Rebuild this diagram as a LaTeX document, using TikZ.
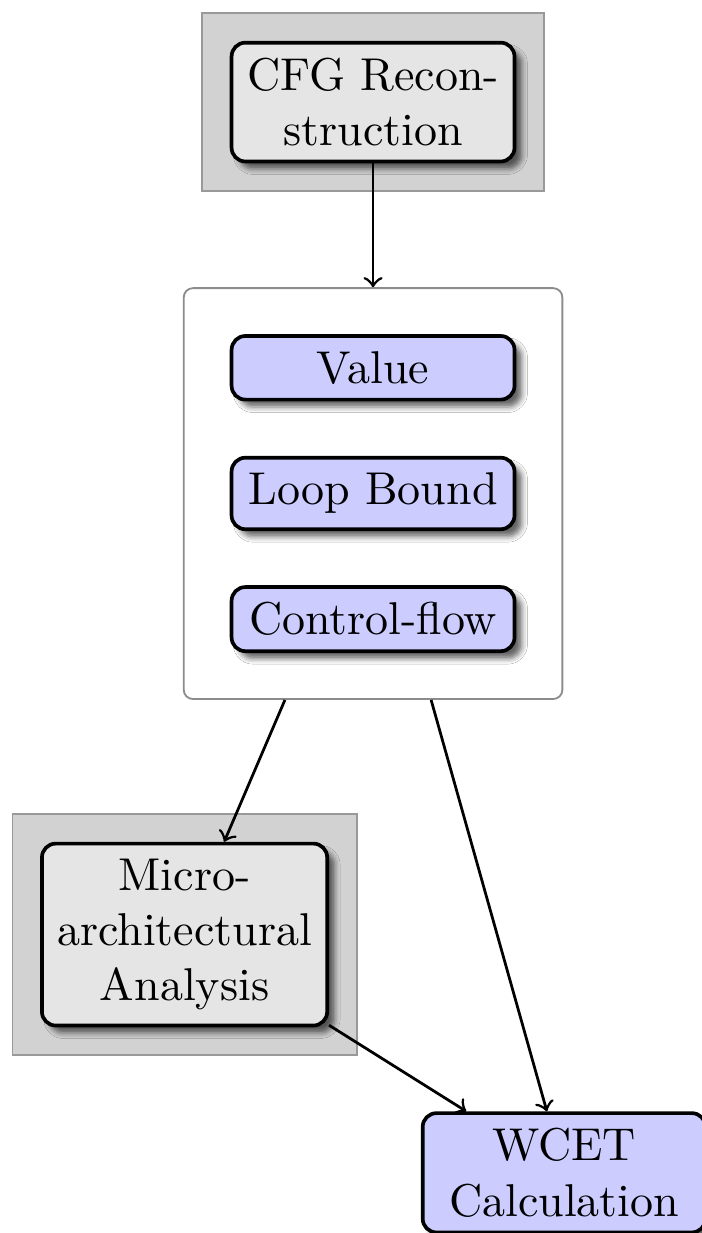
\documentclass[tikz,border=0pt]{standalone}
\usetikzlibrary{fit,backgrounds,shadows.blur}

\tikzset{
  stage/.style={draw, thick, rounded corners=3pt, fill=gray!20, align=center,
    minimum width=61.5pt,
    blur shadow={shadow xshift=1.6pt, shadow yshift=-1.6pt, shadow blur radius=1.2pt,
      shadow opacity=60}},
  analysis/.style={stage, fill=blue!20},
  frame/.style={draw=gray!80, fill=gray!35, inner sep=6pt},
  group/.style={draw=gray!90, fill=white, rounded corners=2pt, inner sep=10pt},
}

\begin{document}
\begin{tikzpicture}[>=to]
    \useasboundingbox (0,0) rectangle (5.36,-9.42);
    % Front end
    \node[stage] (cfg) at (2.85,-0.78) {CFG Recon-\\struction};
    % Analyses on the reconstructed CFG
    \node[analysis] (value) at (2.85,-2.81) {Value};
    \node[analysis] (loop) at (2.85,-3.77) {Loop Bound};
    \node[analysis] (flow) at (2.85,-4.73) {Control-flow};
    % Hardware level
    \node[stage] (micro) at (1.41,-7.14) {Micro-\\architectural\\Analysis};
    % Final bound
    \node[analysis] (wcet) at (4.31,-8.96) {WCET\\Calculation};
    % Surrounding frames
    \begin{scope}[on background layer]
        \node[frame, fit=(cfg)] (cfgframe) {};
        \node[group, fit=(value) (flow)] (analyses) {};
        \node[frame, fit=(micro)] (microframe) {};
    \end{scope}
    % Flow between the phases
    \draw[->, semithick] (cfg) -- (analyses);
    \draw[->, semithick] (analyses) -- (micro);
    \draw[->, semithick] (analyses) -- (wcet);
    \draw[->, semithick] (micro) -- (wcet);
\end{tikzpicture}
\end{document}
